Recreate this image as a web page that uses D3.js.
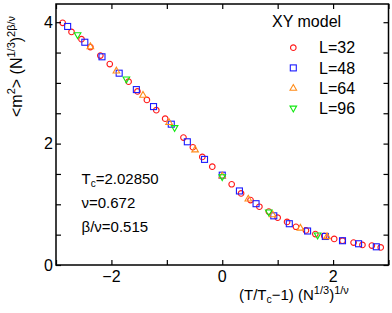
<!DOCTYPE html>
<html><head><meta charset="utf-8">
<script src="https://cdn.jsdelivr.net/npm/d3@7"></script>
<style>body{margin:0;background:#fff}svg{display:block}text{font-family:"Liberation Sans",Arial,sans-serif;fill:#000}</style>
</head><body>
<svg id="c" width="392" height="313"></svg>
<script>
const L32x=[-2.88,-2.72,-2.54,-2.38,-2.20,-2.03,-1.69,-1.53,-1.36,-1.19,-1.03,-0.70,-0.53,-0.36,-0.18,0.17,0.34,0.51,0.67,0.84,1.00,1.17,1.33,1.51,1.68,1.84,2.02,2.17,2.37,2.53,2.70,2.86];
const L32y=[3.99,3.84,3.72,3.59,3.45,3.31,3.02,2.86,2.72,2.55,2.41,2.10,1.94,1.78,1.62,1.33,1.18,1.07,0.96,0.88,0.78,0.71,0.63,0.57,0.51,0.48,0.43,0.40,0.37,0.33,0.32,0.29];
const L48x=[-2.79,-2.48,-2.17,-1.86,-1.55,-1.24,-0.92,-0.63,-0.32,0.00,0.31,0.61,0.93,1.21,1.54,1.86,2.17,2.46,2.78];
const L48y=[3.93,3.67,3.43,3.16,2.89,2.61,2.32,2.03,1.74,1.48,1.22,1.01,0.81,0.68,0.56,0.47,0.40,0.35,0.30];
const L64x=[-2.38,-1.91,-1.43,-0.96,-0.49,0.00,0.47,0.91,1.41,1.89];
const L64y=[3.60,3.20,2.80,2.35,1.90,1.47,1.09,0.83,0.61,0.47];
const L96x=[-2.61,-1.73,-0.86,0.00,0.84,1.72];
const L96y=[3.79,3.06,2.26,1.45,0.87,0.49];
const legendLabels=["L=32","L=48","L=64","L=96"];
const xTicks=[-2,0,2];
const yTicks=[0,2,4];

const svg=d3.select("#c");
const W=392,H=313,m={l:56,r:3.5,t:4,b:48};
const x=d3.scaleLinear().domain([-3,3]).range([m.l,W-m.r]);
const y=d3.scaleLinear().domain([0,4.3]).range([H-m.b,m.t]);
const tl=5;

const series=[
 {xs:L32x,ys:L32y,color:"#ff1a1a",shape:"circle"},
 {xs:L48x,ys:L48y,color:"#1a1aff",shape:"square"},
 {xs:L64x,ys:L64y,color:"#ff8c1a",shape:"up"},
 {xs:L96x,ys:L96y,color:"#10e810",shape:"down"}
];
function marker(g,shape,color){
  if(shape==="circle") g.append("circle").attr("r",2.8);
  else if(shape==="square") g.append("rect").attr("x",-3).attr("y",-3).attr("width",6).attr("height",6);
  else if(shape==="up") g.append("path").attr("d","M0,-3.6L3.3,2.2L-3.3,2.2Z");
  else g.append("path").attr("d","M0,3.6L3.3,-2.2L-3.3,-2.2Z");
  g.selectAll("*").attr("fill","none").attr("stroke",color).attr("stroke-width",1.1);
}
series.forEach(s=>{
  s.xs.forEach((xv,i)=>{
    const g=svg.append("g").attr("transform",`translate(${x(xv)},${y(s.ys[i])})`);
    marker(g,s.shape,s.color);
  });
});

const ax=d3.axisBottom(x).tickValues(d3.range(-3,3.01,1)).tickSize(-tl).tickFormat("");
const axT=d3.axisTop(x).tickValues(d3.range(-3,3.01,1)).tickSize(-tl).tickFormat("");
const ay=d3.axisLeft(y).tickValues(d3.range(0,4.31,0.5)).tickSize(-tl).tickFormat("");
const ayR=d3.axisRight(y).tickValues(d3.range(0,4.31,0.5)).tickSize(-tl).tickFormat("");
function style(g){g.select(".domain").remove();g.selectAll("line").attr("stroke","#000").attr("stroke-width",1.2);}
svg.append("g").attr("transform",`translate(0,${H-m.b})`).call(ax).call(style);
svg.append("g").attr("transform",`translate(0,${m.t})`).call(axT).call(style);
svg.append("g").attr("transform",`translate(${m.l},0)`).call(ay).call(style);
svg.append("g").attr("transform",`translate(${W-m.r},0)`).call(ayR).call(style);
svg.append("rect").attr("x",m.l).attr("y",m.t).attr("width",W-m.l-m.r).attr("height",H-m.t-m.b)
  .attr("fill","none").attr("stroke","#000").attr("stroke-width",1.5);

svg.selectAll(".xl").data(xTicks).enter().append("text").attr("x",d=>x(d)).attr("y",281.5)
  .attr("text-anchor","middle").attr("font-size",16).text(d=>d<0?"\u2212"+Math.abs(d):d);
svg.selectAll(".yl").data(yTicks).enter().append("text").attr("x",53).attr("y",d=>y(d)+5.7)
  .attr("text-anchor","end").attr("font-size",16).text(d=>d);

const xt=svg.append("text").attr("x",239).attr("y",300).attr("font-size",15);
xt.append("tspan").text("(T/T");
xt.append("tspan").attr("font-size",10.5).attr("dy",3).text("c");
xt.append("tspan").attr("dy",-3).text("\u22121) (N");
xt.append("tspan").attr("font-size",11).attr("dy",-6.5).text("1/3");
xt.append("tspan").attr("dy",6.5).text(")");
xt.append("tspan").attr("font-size",11).attr("dy",-6.5).text("1/\u03bd");

const yt=svg.append("text").attr("transform","translate(22,117) rotate(-90)").attr("font-size",16);
yt.append("tspan").text("<m");
yt.append("tspan").attr("font-size",11).attr("dy",-7.5).text("2");
yt.append("tspan").attr("dy",7.5).text("> (N");
yt.append("tspan").attr("font-size",11).attr("dy",-7).text("1/3");
yt.append("tspan").attr("dy",7).text(")");
yt.append("tspan").attr("font-size",11).attr("dy",-7).text("2\u03b2/\u03bd");

svg.append("text").attr("x",272).attr("y",26.5).attr("font-size",16).text("XY model");
legendLabels.forEach((lab,i)=>{
  const yy=47.7+i*20.2;
  const g=svg.append("g").attr("transform",`translate(293.3,${yy})`);
  marker(g,series[i].shape,series[i].color);
  svg.append("text").attr("x",319).attr("y",yy+5.6).attr("font-size",16).text(lab);
});

const a1=svg.append("text").attr("x",81.5).attr("y",184.3).attr("font-size",15);
a1.append("tspan").text("T");
a1.append("tspan").attr("font-size",10).attr("dy",3).text("c");
a1.append("tspan").attr("dy",-3).text("=2.02850");
svg.append("text").attr("x",81.5).attr("y",207.5).attr("font-size",15).text("\u03bd=0.672");
svg.append("text").attr("x",81.5).attr("y",231.5).attr("font-size",15).text("\u03b2/\u03bd=0.515");
</script>
</body></html>
